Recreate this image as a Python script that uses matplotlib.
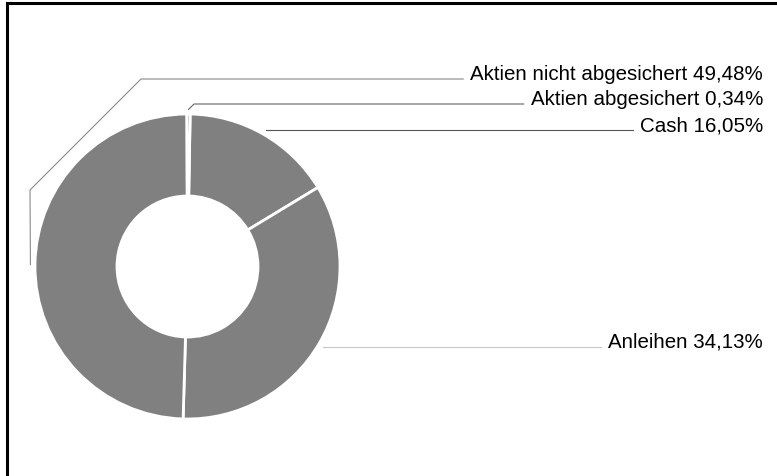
import numpy as np
import matplotlib.pyplot as plt

# data
labels = ["Cash", "Anleihen", "Aktien nicht abgesichert", "Aktien abgesichert"]
values = [16.05, 34.13, 49.48, 0.34]
value_text = ["16,05%", "34,13%", "49,48%", "0,34%"]

# layout (pixel space, y measured from the top)
W, H = 777, 477
cx, cy = 187.5, 267.5
r_out, r_in = 152.5, 70.5
label_x = 763
label_y = [131, 348, 80, 105]
line_col = ["#555555", "#c8c8c8", "#8a8a8a", "#666666"]
# knee points for the labels that don't get a straight line
knees = {2: [(30, 191), (141, 80)], 3: [(194, 105)]}

fig = plt.figure(figsize=(W / 100, H / 100), dpi=100)
ax = fig.add_axes([0, 0, 1, 1])

wedges, _ = ax.pie(values, center=(cx, H - cy), radius=r_out, startangle=89,
                   counterclock=False, colors=["#808080"] * len(values),
                   wedgeprops=dict(width=r_out - r_in, edgecolor="white", linewidth=2))

ax.set_xlim(0, W)
ax.set_ylim(0, H)
ax.set_aspect("auto")
ax.axis("off")

for i, w in enumerate(wedges):
    mid = np.deg2rad((w.theta1 + w.theta2) / 2)
    sx = cx + r_out * 1.03 * np.cos(mid)
    sy = (H - cy) + r_out * 1.03 * np.sin(mid)
    if i not in knees:
        sy = H - label_y[i]  # straight horizontal leader
    pts = [(sx, sy)]
    for kx, ky in knees.get(i, []):
        pts.append((kx, H - ky))
    txt = ax.text(label_x, H - label_y[i], f"{labels[i]} {value_text[i]}",
                  ha="right", va="baseline", fontsize=14.8,
                  family="Liberation Sans", color="black")
    fig.canvas.draw()
    bb = txt.get_window_extent().transformed(ax.transData.inverted())
    pts.append((bb.x0 - 7, H - label_y[i]))
    xs, ys = zip(*pts)
    ax.plot(xs, ys, color=line_col[i], lw=0.8)

# frame on top and left
ax.plot([6.5, W], [H - 4, H - 4], color="black", lw=2.2, clip_on=False)
ax.plot([7, 7], [0, H - 4], color="black", lw=2.2, clip_on=False)

fig.savefig("out.png", dpi=100)
